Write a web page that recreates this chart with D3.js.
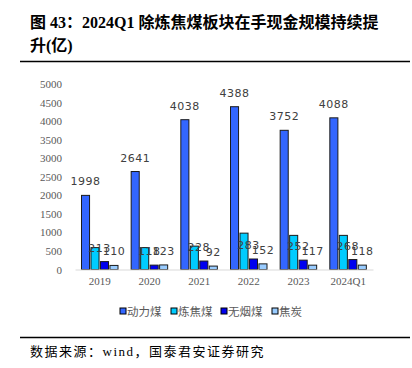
<!DOCTYPE html>
<html>
<head>
<meta charset="utf-8">
<script src="https://cdn.jsdelivr.net/npm/d3@7"></script>
<style>
body { margin: 0; background: #fff; }
</style>
</head>
<body>
<script>
// categories and series
var years = ["2019", "2020", "2021", "2022", "2023", "2024Q1"];
var seriesNames = ["动力煤", "炼焦煤", "无烟煤", "焦炭"];
var thermal = [1998, 2641, 4038, 4388, 3752, 4088];
var coking = [590, 590, 630, 980, 920, 920];
var anthracite = [213, 118, 228, 283, 252, 268];
var coke = [110, 123, 92, 152, 117, 118];
var yTicks = [0, 500, 1000, 1500, 2000, 2500, 3000, 3500, 4000, 4500, 5000];
var colors = ["#3366FF", "#00CCFF", "#0000EE", "#99CCFF"];
// which series carry value labels (coking coal labels are not shown)
var labelled = [true, false, true, true];

window.onload = function(){
    var svg = d3.select("body")
        .append("svg")
        .attr("width", 412)
        .attr("height", 368);

    // title
    var title = svg.append("text")
        .attr("x", 30)
        .attr("y", 28)
        .style("font-family", "'Liberation Serif', 'Noto Sans CJK SC'")
        .style("font-weight", "bold")
        .style("font-size", "16px")
        .style("fill", "#000");
    title.append("tspan").text("图 43：2024Q1 除炼焦煤板块在手现金规模持续提");
    title.append("tspan").attr("x", 30).attr("dy", 23).text("升(亿)");

    svg.append("line")
        .attr("x1", 20).attr("x2", 410)
        .attr("y1", 61.5).attr("y2", 61.5)
        .style("stroke", "#000")
        .style("stroke-width", 1.5);

    var series = [thermal, coking, anthracite, coke];

    var x = d3.scaleBand()
        .domain(years)
        .range([75, 373]);

    var x1 = d3.scaleBand()
        .domain(d3.range(4))
        .range([6.5, 43])
        .paddingInner(0.15);

    var y = d3.scaleLinear()
        .domain([0, 5000])
        .range([269.5, 84]);

    // y axis labels
    var yAxis = d3.axisLeft(y)
        .tickValues(yTicks)
        .tickFormat(d3.format("d"))
        .tickSize(0)
        .tickPadding(0);
    var gy = svg.append("g")
        .attr("transform", "translate(62,0)")
        .call(yAxis);
    gy.select(".domain").remove();
    gy.selectAll("text")
        .style("font-family", "'Liberation Serif'")
        .style("font-size", "11px")
        .style("fill", "#595959");

    // bars
    series.forEach(function(vals, s){
        var g = svg.append("g").attr("class", "series" + s);
        g.selectAll("rect")
            .data(vals)
            .enter()
            .append("rect")
            .attr("x", function(d, i){ return x(years[i]) + x1(s); })
            .attr("y", function(d){ return y(d); })
            .attr("width", x1.bandwidth())
            .attr("height", function(d){ return y(0) - y(d); })
            .style("fill", colors[s])
            .style("stroke", "#1a1a1a")
            .style("stroke-width", 1);

        if (labelled[s]) {
            g.selectAll("text")
                .data(vals)
                .enter()
                .append("text")
                .attr("text-anchor", "middle")
                .attr("x", function(d, i){
                    var shift = s == 2 ? -5 : 0; //anthracite labels sit a little left
                    return x(years[i]) + x1(s) + x1.bandwidth() / 2 + shift;
                })
                .attr("y", function(d){ return y(d) - 10; })
                .style("font-family", "'DejaVu Sans'")
                .style("font-size", "11px")
                .style("letter-spacing", "0.5px")
                .style("fill", "#404040")
                .text(function(d){ return d; });
        }
    });

    // x axis
    var xAxis = d3.axisBottom(x).tickSize(0).tickPadding(8);
    var gx = svg.append("g")
        .attr("transform", "translate(0," + y(0) + ")")
        .call(xAxis);
    gx.select(".domain").style("stroke", "#d9d9d9");
    gx.selectAll("text")
        .style("font-family", "'Liberation Serif'")
        .style("font-size", "11px")
        .style("fill", "#595959");

    // legend
    var legendX = [120, 171, 221, 272];
    var legend = svg.selectAll(".legend")
        .data(seriesNames)
        .enter()
        .append("g")
        .attr("class", "legend")
        .attr("transform", function(d, i){ return "translate(" + legendX[i] + ",312)"; });
    legend.append("rect")
        .attr("x", 0).attr("y", -4)
        .attr("width", 6).attr("height", 6)
        .style("fill", function(d, i){ return colors[i]; })
        .style("stroke", "#000")
        .style("stroke-width", 1);
    legend.append("text")
        .attr("x", 7)
        .attr("y", 4)
        .style("font-family", "'Noto Sans CJK SC'")
        .style("font-size", "11.5px")
        .style("fill", "#595959")
        .text(function(d){ return d; });

    // source
    svg.append("line")
        .attr("x1", 20).attr("x2", 410)
        .attr("y1", 337.5).attr("y2", 337.5)
        .style("stroke", "#000")
        .style("stroke-width", 1.5);
    svg.append("text")
        .attr("x", 30)
        .attr("y", 356)
        .style("font-family", "'Liberation Serif', 'Noto Sans CJK SC'")
        .style("font-size", "13px")
        .style("letter-spacing", "1.5px")
        .style("fill", "#000")
        .text("数据来源：wind，国泰君安证券研究");
};
</script>
</body>
</html>
